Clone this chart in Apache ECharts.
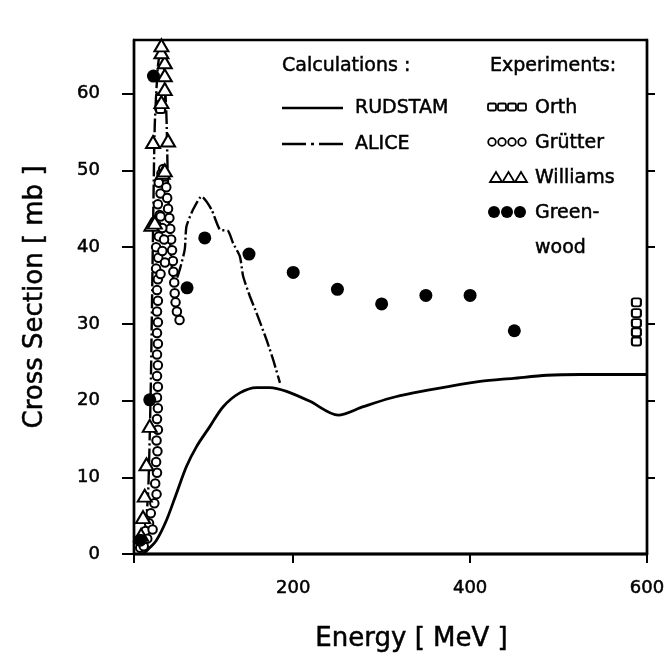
<!DOCTYPE html>
<html>
<head>
<meta charset="utf-8">
<script src="https://cdn.jsdelivr.net/npm/echarts@6/dist/echarts.min.js"></script>
<style>
html,body{margin:0;padding:0;background:#fff;}
#chart{width:672px;height:657px;}
</style>
</head>
<body>
<div id="chart"></div>
<script>
// ---- data (energy in MeV, cross section in mb) ----
const energyTicks = [200, 400, 600];
const sectionTicks = [0, 10, 20, 30, 40, 50, 60];

const rudstam = [
  [30, 0], [35, 0.5], [45.4, 1.8], [56.7, 4.4], [68, 7.9], [79.3, 11.4], [90.7, 14.0],
  [105.7, 16.6], [120.8, 19.2], [139.7, 21.0], [158.6, 21.7], [173.6, 21.7], [192.5, 21.2],
  [218.9, 19.9], [250.9, 18.1], [279.2, 19.2], [309.4, 20.3], [335.8, 21.0], [373.6, 21.8],
  [411.3, 22.5], [449, 22.9], [486.8, 23.3], [524.5, 23.4], [600, 23.4]
];

const alice = [
  [31, 0.5], [36, 8], [39, 22], [41.5, 42], [43.5, 56], [47, 63.5], [51, 66.4], [54, 63.5],
  [56.7, 57], [58, 50], [60, 43], [62, 38.5], [65, 35.6], [68, 35.8], [71.8, 37.1], [77.4, 39.7],
  [79.3, 42.7], [86.8, 44.9], [96.3, 46.6], [107.6, 44.9], [117, 42.3], [126.4, 42.1],
  [132.1, 40.5], [139.7, 38.8], [143.4, 36.2], [151, 33.6], [158.6, 31.4], [169.9, 27.9],
  [177.4, 25.3], [185, 22.3]
];

const orth = [
  [50, 59.5], [50, 58.0],
  [588, 32.8], [588, 31.4], [588, 30.1], [588, 28.9], [588, 27.7]
];

const grutter = [
  [27, 0.8], [29, 2.2], [31, 1.0], [33, 3.0], [35, 2.0], [37, 4.0], [39, 5.3], [41, 3.2],
  [43, 6.6], [45.5, 7.8], [44, 9.2], [46, 10.6], [45, 12.0], [46.5, 13.4], [45.5, 14.8],
  [47, 16.2], [46, 17.6], [47, 19.0], [46, 20.4], [47, 21.8], [46, 23.2], [47, 24.6],
  [46, 26.0], [47, 27.4], [46, 28.8], [47, 30.2], [46, 31.6], [47, 33.0], [46, 34.4],
  [47, 35.8], [45, 37.2], [47.5, 38.6], [45, 40.0], [48, 41.4], [46, 42.8], [49, 44.2],
  [47, 45.6], [50, 47.0], [48, 48.4], [51, 49.6],
  [53, 50.2], [55, 49.2], [56.5, 47.8], [57.5, 46.4], [58.5, 45.0], [60, 43.8], [61, 42.4],
  [62, 41.0], [63, 39.6], [64, 38.2], [64.5, 36.8], [65.5, 35.4], [66, 34.0], [67, 32.8],
  [68.5, 31.6], [71.5, 30.5],
  [50, 44], [52, 42.5], [54, 41], [52, 39.5], [55, 38], [50, 36.5]
];

const williams = [
  [28, 2.5], [30.2, 4.8], [32.1, 7.6], [34.1, 11.7], [37.8, 16.7], [39.7, 42.9], [43.5, 43.2],
  [41.5, 53.7], [58.5, 53.9], [52.5, 49.7], [54.8, 50], [51, 58.9], [54.8, 60.6], [54.8, 62.4],
  [54.8, 64.1], [51, 65.4], [51, 66.3]
];

const greenwood = [
  [27, 1.8], [37.8, 20.1], [42, 62.3],
  [80, 34.7], [100, 41.2], [150, 39.1], [200, 36.7], [250, 34.5], [300, 32.6],
  [350, 33.7], [400, 33.7], [450, 29.1]
];

// ---- chart ----
const FONT = 'DejaVu Sans';
const chart = echarts.init(document.getElementById('chart'), null, {renderer: 'canvas'});

const txt = (text, x, y) => ({
  type: 'text', x: x, y: y, silent: true,
  style: {text: text, fill: '#000', fontFamily: FONT, fontSize: 19, verticalAlign: 'middle', align: 'left',
          stroke: '#000', lineWidth: 0.5}
});
const sq = (cx, cy) => ({type: 'rect', shape: {x: cx - 4, y: cy - 3.5, width: 8, height: 7, r: 1.5},
  style: {fill: '#fff', stroke: '#000', lineWidth: 1.8}});
const ci = (cx, cy) => ({type: 'circle', shape: {cx: cx, cy: cy, r: 3.8},
  style: {fill: '#fff', stroke: '#000', lineWidth: 1.8}});
const tri = (cx, cy) => ({type: 'polygon', shape: {points: [[cx - 6, cy + 5], [cx + 6, cy + 5], [cx, cy - 5]]},
  style: {fill: '#fff', stroke: '#000', lineWidth: 1.8}});
const dot = (cx, cy) => ({type: 'circle', shape: {cx: cx, cy: cy, r: 6}, style: {fill: '#000'}});

const labelStyle = {fontFamily: FONT, fontSize: 18, color: '#000', textBorderColor: '#000', textBorderWidth: 0.5};
const hollow = {color: '#fff', borderColor: '#000', borderWidth: 2, opacity: 1};

const option = {
  backgroundColor: '#fff',
  animation: false,
  grid: {left: 134, right: 25, top: 40, bottom: 103, show: true, borderColor: '#000', borderWidth: 2.4,
         containLabel: false, outerBoundsMode: 'none'},
  xAxis: [{
    type: 'value', min: 20, max: 600, position: 'bottom',
    name: 'Energy [ MeV ]', nameLocation: 'middle', nameGap: 72,
    nameTextStyle: {fontFamily: FONT, fontSize: 26, color: '#000', padding: [0, 0, 0, 42],
                    textBorderColor: '#000', textBorderWidth: 0.5},
    axisLine: {show: true, onZero: false, lineStyle: {color: '#000', width: 2.4}},
    axisTick: {show: true, inside: false, length: 9, customValues: [20, 200, 400, 600], lineStyle: {color: '#000', width: 2}},
    axisLabel: Object.assign({show: true, customValues: energyTicks, margin: 25}, labelStyle),
    splitLine: {show: false}
  }, {
    type: 'value', min: 20, max: 600, position: 'top',
    axisLine: {show: true, lineStyle: {color: '#000', width: 2.4}},
    axisTick: {show: false}, axisLabel: {show: false}, splitLine: {show: false}
  }],
  yAxis: [{
    type: 'value', min: 0, max: 67, position: 'left',
    name: 'Cross Section [ mb ]', nameLocation: 'middle', nameGap: 86, nameRotate: 90,
    nameTextStyle: {fontFamily: FONT, fontSize: 26, color: '#000', textBorderColor: '#000', textBorderWidth: 0.5},
    axisLine: {show: true, onZero: false, lineStyle: {color: '#000', width: 2.4}},
    axisTick: {show: true, inside: false, length: 12, customValues: sectionTicks, lineStyle: {color: '#000', width: 2}},
    axisLabel: Object.assign({show: true, customValues: sectionTicks, margin: 34}, labelStyle),
    splitLine: {show: false}
  }, {
    type: 'value', min: 0, max: 67, position: 'right',
    axisLine: {show: true, onZero: false, lineStyle: {color: '#000', width: 2.4}},
    axisTick: {show: true, inside: false, length: 8, customValues: [10, 20, 30, 40, 50, 60], lineStyle: {color: '#000', width: 2}},
    axisLabel: {show: false}, splitLine: {show: false}
  }],
  series: [
    {name: 'RUDSTAM', type: 'line', data: rudstam, showSymbol: false, smooth: 0.3, z: 2,
     lineStyle: {color: '#000', width: 2.8}},
    {name: 'ALICE', type: 'line', data: alice, showSymbol: false, smooth: 0.2, z: 2,
     lineStyle: {color: '#000', width: 2.4, type: [14, 3, 2, 3]}},
    {name: 'Grütter', type: 'scatter', data: grutter, symbol: 'circle', symbolSize: 8.5, z: 3,
     itemStyle: hollow},
    {name: 'Orth', type: 'scatter', data: orth, symbol: 'roundRect', symbolSize: [9, 8], z: 4,
     itemStyle: hollow},
    {name: 'Williams', type: 'scatter', data: williams, symbol: 'triangle', symbolSize: [14, 12], z: 5,
     itemStyle: hollow},
    {name: 'Greenwood', type: 'scatter', data: greenwood, symbol: 'circle', symbolSize: 13, z: 6,
     itemStyle: {color: '#000', opacity: 1}}
  ],
  graphic: [
    txt('Calculations :', 282, 66),
    txt('Experiments:', 490, 66),
    {type: 'line', shape: {x1: 282, y1: 108, x2: 343, y2: 108}, style: {stroke: '#000', lineWidth: 2.6}},
    txt('RUDSTAM', 355, 108),
    {type: 'line', shape: {x1: 282, y1: 144, x2: 346, y2: 144}, style: {stroke: '#000', lineWidth: 2.6, lineDash: [24, 5, 3, 5]}},
    txt('ALICE', 355, 144),
    sq(492, 107), sq(502, 107), sq(512, 107), sq(522, 107),
    txt('Orth', 535, 108),
    ci(492, 142), ci(502, 142), ci(512, 142), ci(522, 142),
    txt('Grütter', 535, 143),
    tri(496, 177), tri(508.5, 177), tri(521, 177),
    txt('Williams', 535, 178),
    dot(494, 212), dot(507, 212), dot(520, 212),
    txt('Green-', 535, 213),
    txt('wood', 535, 248)
  ]
};
chart.setOption(option);
</script>
</body>
</html>
